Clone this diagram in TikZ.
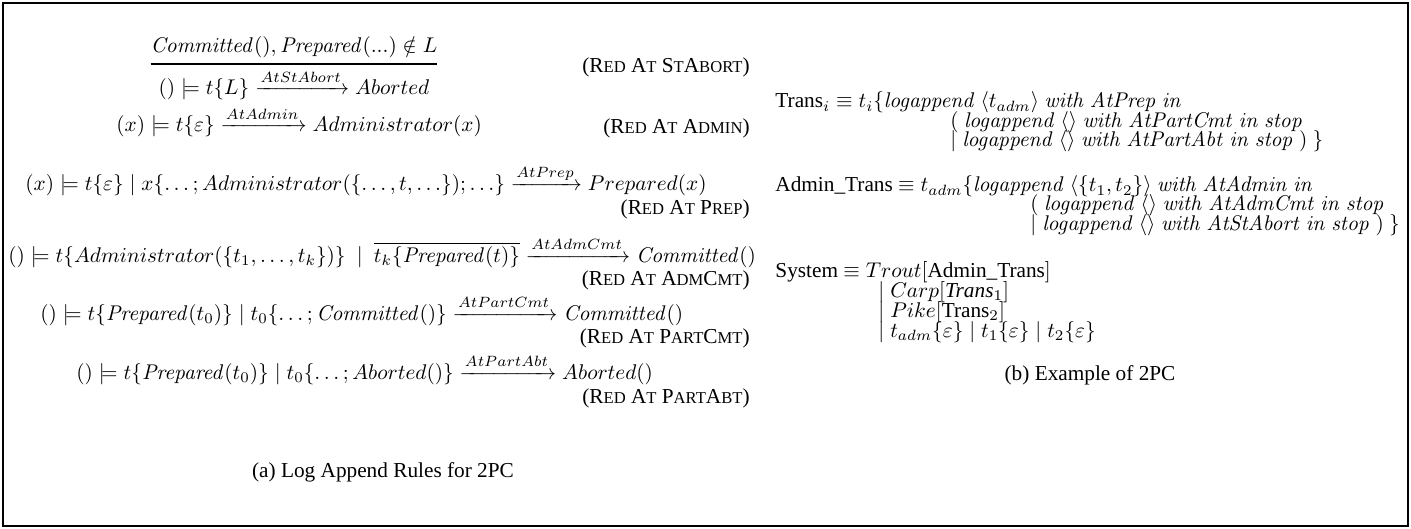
\documentclass[tikz,border=0pt]{standalone}
\usepackage{amsmath}
\usepackage{amssymb}
\usepackage[no-math]{fontspec}
\setmainfont{Liberation Serif}
\usepackage{tikz}

\newcommand{\smc}[1]{{\fontsize{7.8pt}{8pt}\selectfont #1}}
\newcommand{\kw}[1]{\mathit{#1}}

\begin{document}
\begin{tikzpicture}
	[%
	x=0.47pt, y=-0.47pt,%
	rule/.style     ={anchor=base west,	inner sep=0pt},%
	rulename/.style ={anchor=base east,	inner sep=0pt},%
	defn/.style     ={anchor=base west,	inner sep=0pt},%
	caption/.style  ={inner sep=0pt},%
	]

	\useasboundingbox (0,0) rectangle (1411,529);
	\draw [line width=1pt] (3,3) rectangle (1408,526);

	% (a) rules
	\node (rstabort) at (294,68) [inner sep=0pt]
		{$\genfrac{}{}{0.8pt}{0}{\kw{Committed}(), \kw{Prepared}(...) \notin L}{() \models t\{L\} \xrightarrow{AtStAbort} Aborted}$};
	\node (radmin) at (116,132) [rule]
		{$(x) \models t\{\varepsilon\} \xrightarrow{AtAdmin} Administrator(x)$};
	\node (rprep) at (25,191) [rule]
		{$(x) \models t\{\varepsilon\} \mid x\{\ldots; Administrator(\{\ldots,t,\ldots\});\ldots\} \xrightarrow{AtPrep} Prepared(x)$};
	\node (radmcmt) at (8,262) [rule]
		{$() \models t\{Administrator(\{t_1,\ldots,t_k\})\}\ \mid\ \overline{t_k\{\kw{Prepared}(t)\}} \xrightarrow{AtAdmCmt} \kw{Committed}()$};
	\node (rpartcmt) at (40,320) [rule]
		{$() \models t\{\kw{Prepared}(t_0)\} \mid t_0\{\ldots;\kw{Committed}()\} \xrightarrow{AtPartCmt} \kw{Committed}()$};
	\node (rpartabt) at (76,379) [rule]
		{$() \models t\{\kw{Prepared}(t_0)\} \mid t_0\{\ldots;Aborted()\} \xrightarrow{AtPartAbt} Aborted()$};

	% rule names
	\foreach \n/\y/\t in {stabort/73/{(R\smc{ED} A\smc{T} S\smc{T}A\smc{BORT})},%
			admin/134/{(R\smc{ED} A\smc{T} A\smc{DMIN})},%
			prep/215/{(R\smc{ED} A\smc{T} P\smc{REP})},%
			admcmt/285/{(R\smc{ED} A\smc{T} A\smc{DM}C\smc{MT})},%
			partcmt/343/{(R\smc{ED} A\smc{T} P\smc{ART}C\smc{MT})},%
			partabt/403/{(R\smc{ED} A\smc{T} P\smc{ART}A\smc{BT})}}
		\node (name\n) at (750,\y) [rulename] {\t};

	\node (capa) at (383,472) [caption] {(a) Log Append Rules for 2PC};

	% (b) example
	\node (trans1) at (775,108) [defn]
		{Trans$_i \equiv t_i\{\kw{logappend}\ \langle t_{adm}\rangle\ \kw{with}\ \kw{AtPrep}\ \kw{in}$};
	\node (trans2) at (950,128) [defn]
		{$(\ \kw{logappend}\ \langle\rangle\ \kw{with}\ \kw{AtPartCmt}\ \kw{in}\ \kw{stop}$};
	\node (trans3) at (950,147) [defn]
		{$\mid \kw{logappend}\ \langle\rangle\ \kw{with}\ \kw{AtPartAbt}\ \kw{in}\ \kw{stop}\ )\ \}$};

	\node (admin1) at (775,192) [defn]
		{Admin\_Trans $\equiv t_{adm}\{\kw{logappend}\ \langle\{t_1,t_2\}\rangle\ \kw{with}\ \kw{AtAdmin}\ \kw{in}$};
	\node (admin2) at (1030,211) [defn]
		{$(\ \kw{logappend}\ \langle\rangle\ \kw{with}\ \kw{AtAdmCmt}\ \kw{in}\ \kw{stop}$};
	\node (admin3) at (1030,230) [defn]
		{$\mid \kw{logappend}\ \langle\rangle\ \kw{with}\ \kw{AtStAbort}\ \kw{in}\ \kw{stop}\ )\ \}$};

	\node (sys1) at (775,277) [defn] {System $\equiv Trout[$Admin\_Trans$]$};
	\node (sys2) at (878,297) [defn] {$\mid Carp[$\textit{Trans}$_1]$};
	\node (sys3) at (878,317) [defn] {$\mid Pike[$Trans$_2]$};
	\node (sys4) at (878,337) [defn]
		{$\mid t_{adm}\{\varepsilon\} \mid t_1\{\varepsilon\} \mid t_2\{\varepsilon\}$};

	\node (capb) at (1090,375) [caption] {(b) Example of 2PC};

\end{tikzpicture}
\end{document}
